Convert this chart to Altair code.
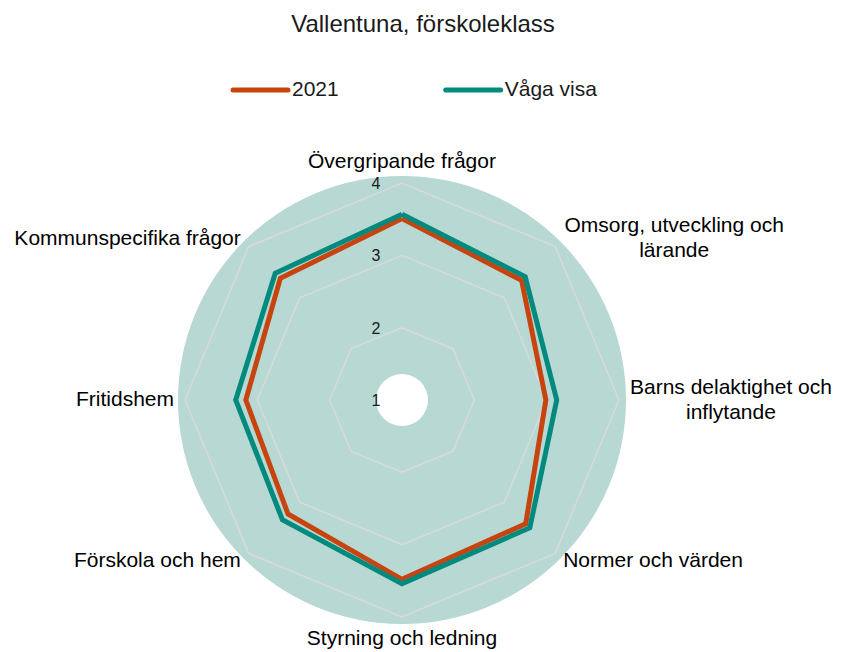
import math
import altair as alt
import pandas as pd

# ---------------- data ----------------
title_text = "Vallentuna, förskoleklass"
categories = [
    "Övergripande frågor",
    "Omsorg, utveckling och\nlärande",
    "Barns delaktighet och\ninflytande",
    "Normer och värden",
    "Styrning och ledning",
    "Förskola och hem",
    "Fritidshem",
    "Kommunspecifika frågor",
]
series_names = ["2021", "Våga visa"]
values_2021 = [3.51, 3.34, 2.99, 3.42, 3.48, 3.23, 3.16, 3.38]
values_vaga = [3.57, 3.41, 3.14, 3.50, 3.54, 3.34, 3.30, 3.48]
tick_values = [1, 2, 3, 4]

# ---------------- styling / layout ----------------
series_colors = ["#C8440F", "#038A7E"]
bg_color = "#B8D8D4"
grid_color = "#D9D9D9"
font = "Liberation Sans"
W, H = 825, 642
CX, CY = 394, 392          # polar centre in plot pixels
UNIT = 72.3                # pixels per scale unit
N = len(categories)
LABEL_R = 3.153            # label radius in scale units
LINE_H = 25
label_shift_px = {1: 111, 2: 101}   # centre multi-line labels

xs = alt.Scale(domain=[-CX / UNIT, (W - CX) / UNIT], nice=False, zero=False)
ys = alt.Scale(domain=[-(H - CY) / UNIT, CY / UNIT], nice=False, zero=False)
X = lambda f: alt.X(f, type="quantitative", scale=xs, axis=None)
Y = lambda f: alt.Y(f, type="quantitative", scale=ys, axis=None)

polar = dict(
    ang=f"datum.idx * 2 * PI / {N}",
    px="(datum.value - 1) * sin(datum.ang)",
    py="(datum.value - 1) * cos(datum.ang)",
)

# background disc
bg = alt.Chart(pd.DataFrame({"a": [0]})).mark_arc(
    theta=0, theta2=2 * math.pi, radius=224, radius2=26, color=bg_color
).encode(x=alt.X("x0:Q", scale=xs, axis=None), y=alt.Y("y0:Q", scale=ys, axis=None)).transform_calculate(x0="0", y0="0")

# grid octagons
grid_rows = []
for lv in tick_values[1:]:
    for i in range(N + 1):
        grid_rows.append({"level": lv, "order": i, "idx": i % N, "value": lv})
grid = alt.Chart(pd.DataFrame(grid_rows)).mark_line(
    color=grid_color, strokeWidth=1.5
).transform_calculate(**polar).encode(
    x=X("px"), y=Y("py"), order="order:Q", detail="level:N"
)

# tick labels
ticks = alt.Chart(pd.DataFrame({"value": tick_values})).mark_text(
    font=font, fontSize=16, color="#1a1a1a", dx=-26, dy=1, align="center", baseline="middle"
).transform_calculate(px="0", py="datum.value - 1", lab="'' + datum.value").encode(
    x=X("px"), y=Y("py"), text="lab:N"
)

# series lines
series_layers = []
for name, vals, col in zip(series_names, [values_2021, values_vaga], series_colors):
    rows = [{"series": name, "order": i, "idx": i % N, "value": vals[i % N]} for i in range(N + 1)]
    series_layers.append(
        alt.Chart(pd.DataFrame(rows)).mark_line(
            color=col, strokeWidth=5, strokeJoin="miter"
        ).transform_calculate(**polar).encode(x=X("px"), y=Y("py"), order="order:Q")
    )

# category labels
lab_rows = []
for i, c in enumerate(categories):
    a = 2 * math.pi * i / N
    s, co = math.sin(a), math.cos(a)
    if i in label_shift_px:
        grp = ("center", "middle")
    elif s > 0.1:
        grp = ("left", "middle")
    elif s < -0.1:
        grp = ("right", "middle")
    elif co > 0:
        grp = ("center", "bottom")
    else:
        grp = ("center", "top")
    nlines = c.count("\n") + 1
    vshift = (nlines - 1) * LINE_H / 2 if grp[1] == "middle" else 0
    lab_rows.append({"text": c, "idx": i, "grp": f"{grp[0]}|{grp[1]}",
                     "shift": label_shift_px.get(i, 0), "vshift": vshift})
lab_df = pd.DataFrame(lab_rows)
label_layers = []
for g in sorted(set(lab_df["grp"])):
    al, bl = g.split("|")
    label_layers.append(
        alt.Chart(lab_df).transform_filter(f"datum.grp == '{g}'").transform_calculate(
            ang=f"datum.idx * 2 * PI / {N}",
            px=f"{LABEL_R} * sin(datum.ang) + datum.shift / {UNIT}",
            py=f"{LABEL_R} * cos(datum.ang) + datum.vshift / {UNIT}",
        ).mark_text(
            font=font, fontSize=21, color="#000000", align=al, baseline=bl,
            lineBreak="\n", lineHeight=LINE_H
        ).encode(x=X("px"), y=Y("py"), text="text:N")
    )

# title
title = alt.Chart(pd.DataFrame({"t": [title_text]})).mark_text(
    font=font, fontSize=24, color="#1a1a1a", align="center", baseline="middle"
).encode(x=alt.value(415), y=alt.value(17), text="t:N")

# legend
legend_layers = []
for k, (name, col) in enumerate(zip(series_names, series_colors)):
    x0 = 225 + k * 212.7
    legend_layers.append(
        alt.Chart(pd.DataFrame({"n": [name]})).mark_rule(
            color=col, strokeWidth=5, strokeCap="round"
        ).encode(x=alt.value(x0), x2=alt.value(x0 + 55), y=alt.value(82))
    )
    legend_layers.append(
        alt.Chart(pd.DataFrame({"n": [name]})).mark_text(
            font=font, fontSize=21, color="#1a1a1a", align="left", baseline="middle"
        ).encode(x=alt.value(x0 + 59), y=alt.value(82), text="n:N")
    )

chart = alt.layer(
    bg, grid, ticks, *series_layers, *label_layers, title, *legend_layers
).properties(
    width=W, height=H, autosize=alt.AutoSizeParams(type="none"), padding=0
).configure_view(stroke=None)

chart.save("out.html", embed_options={"renderer": "svg", "actions": False})
